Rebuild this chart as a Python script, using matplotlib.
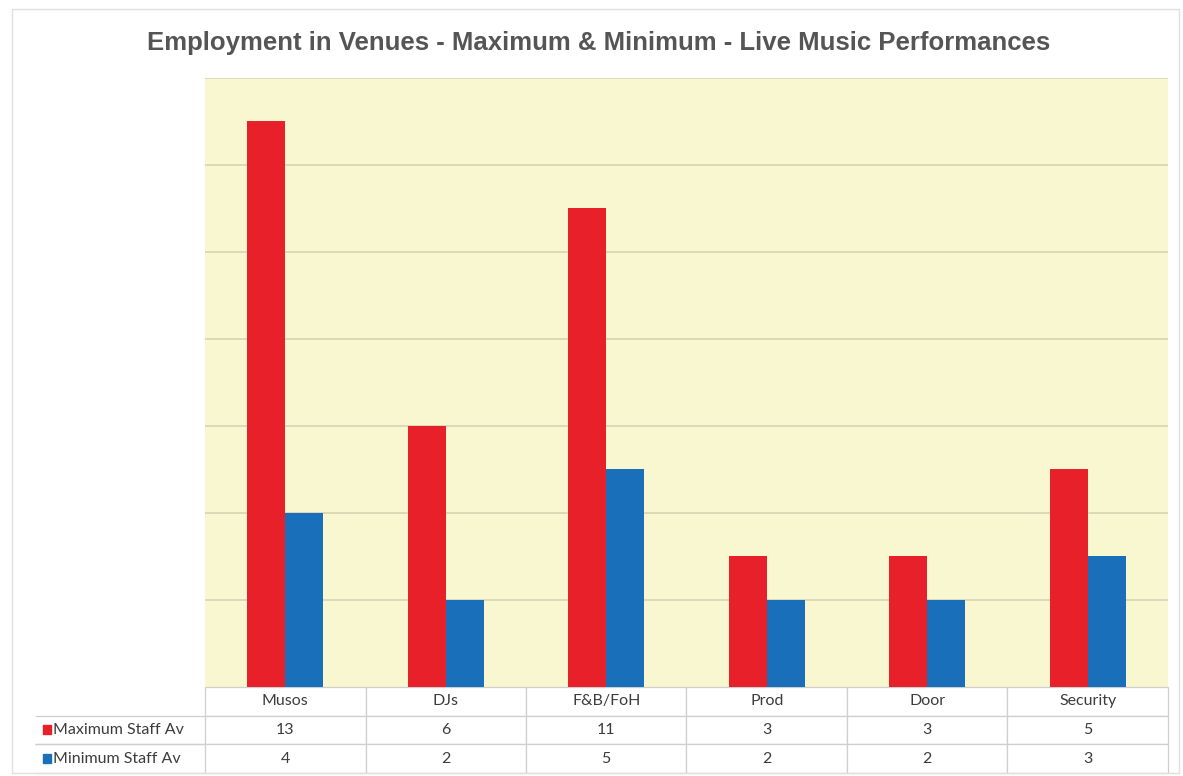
import numpy as np
import matplotlib.pyplot as plt
from matplotlib.patches import Rectangle

# Veriler
categories = ['Musos', 'DJs', 'F&B/FoH', 'Prod', 'Door', 'Security']
max_staff = [13, 6, 11, 3, 3, 5]
min_staff = [4, 2, 5, 2, 2, 3]
series_names = ['Maximum Staff Av', 'Minimum Staff Av']

RED = '#e8202a'
BLUE = '#1a6fba'
TXT = '#3c3c3c'

plt.rcParams['font.family'] = ['Liberation Sans', 'DejaVu Sans']

fig = plt.figure(figsize=(11.83, 7.76), dpi=100)
ax = fig.add_axes([0.1733, 0.1147, 0.8140, 0.7848])

x = np.arange(len(categories))
w = 0.237
ax.bar(x - w / 2, max_staff, width=w, color=RED, zorder=3)
ax.bar(x + w / 2, min_staff, width=w, color=BLUE, zorder=3)

ax.set_xlim(-0.5, len(categories) - 0.5)
ax.set_ylim(0, 14)
ax.set_facecolor('#f8f7cf')
ax.set_yticks(np.arange(2, 15, 2))
ax.grid(axis='y', color='#d6d3b4', linewidth=1.2, zorder=0)
ax.tick_params(left=False, bottom=False, labelleft=False, labelbottom=False)
for s in ax.spines.values():
    s.set_visible(False)

# Tablo (kategori satırı + değerler)
label_w = 170 / 963
tab_h = 86 / 609
cell_text = [[series_names[0]] + [str(v) for v in max_staff],
             [series_names[1]] + [str(v) for v in min_staff]]
col_w = [label_w] + [1 / len(categories)] * len(categories)
tab = ax.table(cellText=cell_text, colLabels=[''] + categories,
               colWidths=col_w, cellLoc='center',
               bbox=[-label_w, -tab_h, 1 + label_w, tab_h])
tab.auto_set_font_size(False)
for (r, c), cell in tab.get_celld().items():
    cell.set_edgecolor('#cfcfcf')
    cell.set_linewidth(0.9)
    cell.get_text().set_color(TXT)
    cell.get_text().set_fontsize(11.5)
    cell.get_text().set_fontfamily(['Lato', 'DejaVu Sans'])
    if r == 0 and c == 0:
        cell.visible_edges = ''
    elif c == 0:
        cell.visible_edges = 'TB'
        cell._loc = 'left'
        cell.get_text().set_ha('left')
        cell.PAD = 18 / 170

# renkli kareler
sq_x = -label_w + 8 / 963
for i, col in enumerate([RED, BLUE]):
    yc = -tab_h + tab_h * (2 - i - 0.5) / 3
    ax.add_patch(Rectangle((sq_x, yc - 4.5 / 609), 8 / 963, 9 / 609,
                           transform=ax.transAxes, color=col,
                           clip_on=False, zorder=5))

fig.text(0.506, 0.944, 'Employment in Venues - Maximum & Minimum - Live Music Performances',
         ha='center', va='center', fontsize=18.5, fontweight='bold', color='#555555')

fig.patches.append(Rectangle((0.010, 0.004), 0.987, 0.985, transform=fig.transFigure,
                             fill=False, edgecolor='#e0e0e0', linewidth=1))

fig.savefig('out.png', dpi=100)
